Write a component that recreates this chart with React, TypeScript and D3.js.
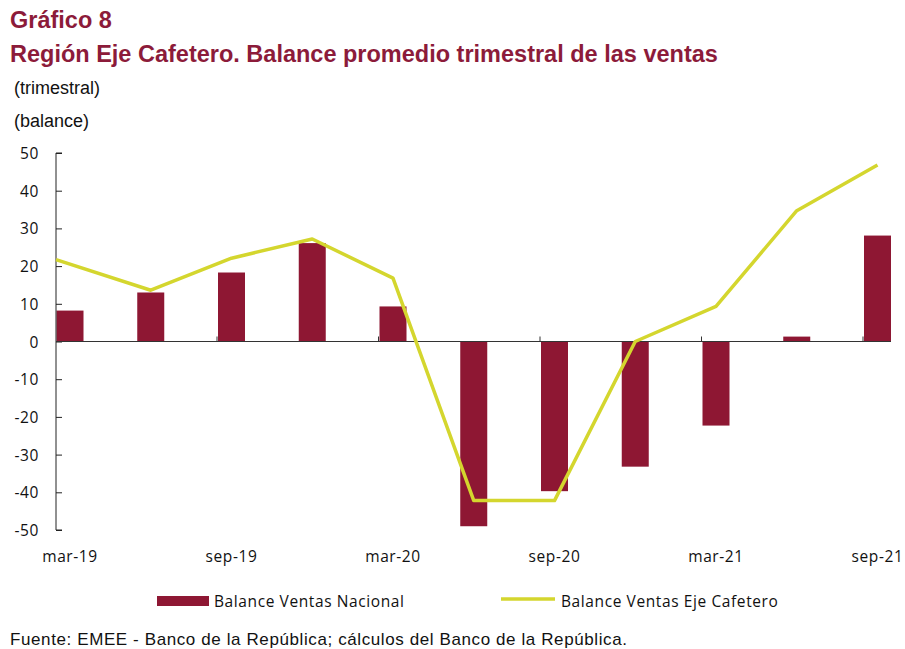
import React, { useEffect, useRef } from 'react';
import * as d3 from 'd3';

const quarters = ['mar-19', 'jun-19', 'sep-19', 'dec-19', 'mar-20', 'jun-20', 'sep-20', 'dec-20', 'mar-21', 'jun-21', 'sep-21'];
const tickLabels = ['mar-19', 'sep-19', 'mar-20', 'sep-20', 'mar-21', 'sep-21'];
const nacional = [8.2, 13.0, 18.3, 26.1, 9.3, -49.0, -39.7, -33.2, -22.3, 1.3, 28.1];
const ejeCafetero = [21.7, 13.6, 22.1, 27.2, 16.8, -42.2, -42.2, 0, 9.3, 34.7, 46.8];
const yTicks = [50, 40, 30, 20, 10, 0, -10, -20, -30, -40, -50];

const W = 905;
const H = 649;
const BAR = '#8E1733';
const LINE = '#D4D62E';
const TITLE = '#8C1B3A';
const tickFont = '"Open Sans", "Noto Sans", sans-serif';
const arial = 'Liberation Sans, Arial, sans-serif';

export default function App() {
  const svgRef = useRef(null);

  useEffect(() => {
    const svg = d3.select(svgRef.current);
    svg.selectAll('*').remove();

    const left = 56;
    const step = 80.75;
    const x = d3.scaleBand().domain(quarters).range([left - 0.5, left - 0.5 + step * quarters.length]).padding(0);
    const barW = 27;
    const y = d3.scaleLinear().domain([-50, 50]).range([530, 153]);
    const barMid = (q) => x(q) + 1 + barW / 2;
    const axisEnd = x(quarters[quarters.length - 1]) + 1 + barW;

    // titles
    svg.append('text').attr('x', 10).attr('y', 28).text('Gráfico 8')
      .attr('font-family', arial).attr('font-weight', 'bold')
      .attr('font-size', 23.5).attr('fill', TITLE);
    svg.append('text').attr('x', 10).attr('y', 62).text('Región Eje Cafetero. Balance promedio trimestral de las ventas')
      .attr('font-family', arial).attr('font-weight', 'bold')
      .attr('font-size', 23.5).attr('fill', TITLE);
    svg.append('text').attr('x', 14).attr('y', 94).text('(trimestral)')
      .attr('font-family', arial).attr('font-size', 18).attr('fill', '#111');
    svg.append('text').attr('x', 14).attr('y', 127).text('(balance)')
      .attr('font-family', arial).attr('font-size', 18).attr('fill', '#111');

    // bars
    svg.append('g').selectAll('rect').data(nacional).join('rect')
      .attr('x', (d, i) => x(quarters[i]) + 1)
      .attr('width', barW)
      .attr('y', d => y(Math.max(0, d)))
      .attr('height', d => Math.abs(y(d) - y(0)))
      .attr('fill', BAR);

    // y axis
    const yAxis = svg.append('g').attr('transform', `translate(${left},0)`)
      .call(d3.axisRight(y).tickValues(yTicks).tickSize(6).tickFormat(() => ''));
    yAxis.select('.domain').attr('d', `M6,${y(50)}H0V${y(-50)}H6`).attr('stroke', '#222');
    yAxis.selectAll('.tick line').attr('stroke', '#222');
    svg.append('g').selectAll('text').data(yTicks).join('text')
      .attr('x', 39).attr('y', d => y(d) + 6)
      .attr('text-anchor', 'end')
      .attr('font-family', tickFont).attr('font-size', 15.5).attr('letter-spacing', 0.6).attr('fill', '#111')
      .text(d => d);

    // zero line and x ticks
    svg.append('line').attr('x1', left).attr('x2', axisEnd).attr('y1', y(0)).attr('y2', y(0))
      .attr('stroke', '#333').attr('stroke-width', 1.2);
    svg.append('g').selectAll('line').data(quarters.filter((q, i) => i % 2 === 0 && i > 0)).join('line')
      .attr('x1', q => x(q)).attr('x2', q => x(q))
      .attr('y1', y(0) - 5).attr('y2', y(0))
      .attr('stroke', '#333');

    // line
    const line = d3.line()
      .x((d, i) => (i === 0 ? left : barMid(quarters[i])))
      .y(d => y(d));
    svg.append('path').datum(ejeCafetero)
      .attr('d', line)
      .attr('fill', 'none').attr('stroke', LINE).attr('stroke-width', 3.5)
      .attr('stroke-linejoin', 'round');

    // x labels
    svg.append('g').selectAll('text').data(tickLabels).join('text')
      .attr('x', q => barMid(q)).attr('y', 562)
      .attr('text-anchor', 'middle')
      .attr('font-family', tickFont).attr('font-size', 15.5).attr('letter-spacing', 0.6).attr('fill', '#111')
      .text(q => q);

    // legend
    svg.append('rect').attr('x', 157).attr('y', 596).attr('width', 52).attr('height', 10).attr('fill', BAR);
    svg.append('text').attr('x', 214).attr('y', 607).text('Balance Ventas Nacional')
      .attr('font-family', tickFont).attr('font-size', 15.5).attr('letter-spacing', 0.6).attr('fill', '#111');
    svg.append('line').attr('x1', 501).attr('x2', 555).attr('y1', 599).attr('y2', 599)
      .attr('stroke', LINE).attr('stroke-width', 3.5);
    svg.append('text').attr('x', 561).attr('y', 607).text('Balance Ventas Eje Cafetero')
      .attr('font-family', tickFont).attr('font-size', 15.5).attr('letter-spacing', 0.6).attr('fill', '#111');

    // source
    svg.append('text').attr('x', 10).attr('y', 645)
      .text('Fuente: EMEE - Banco de la República; cálculos del Banco de la República.')
      .attr('font-family', arial).attr('font-size', 17).attr('textLength', 617).attr('fill', '#111');
  }, []);

  return (
    <svg ref={svgRef} width={W} height={H}
      style={{ position: 'absolute', left: 0, top: 0, background: '#fff' }} />
  );
}
